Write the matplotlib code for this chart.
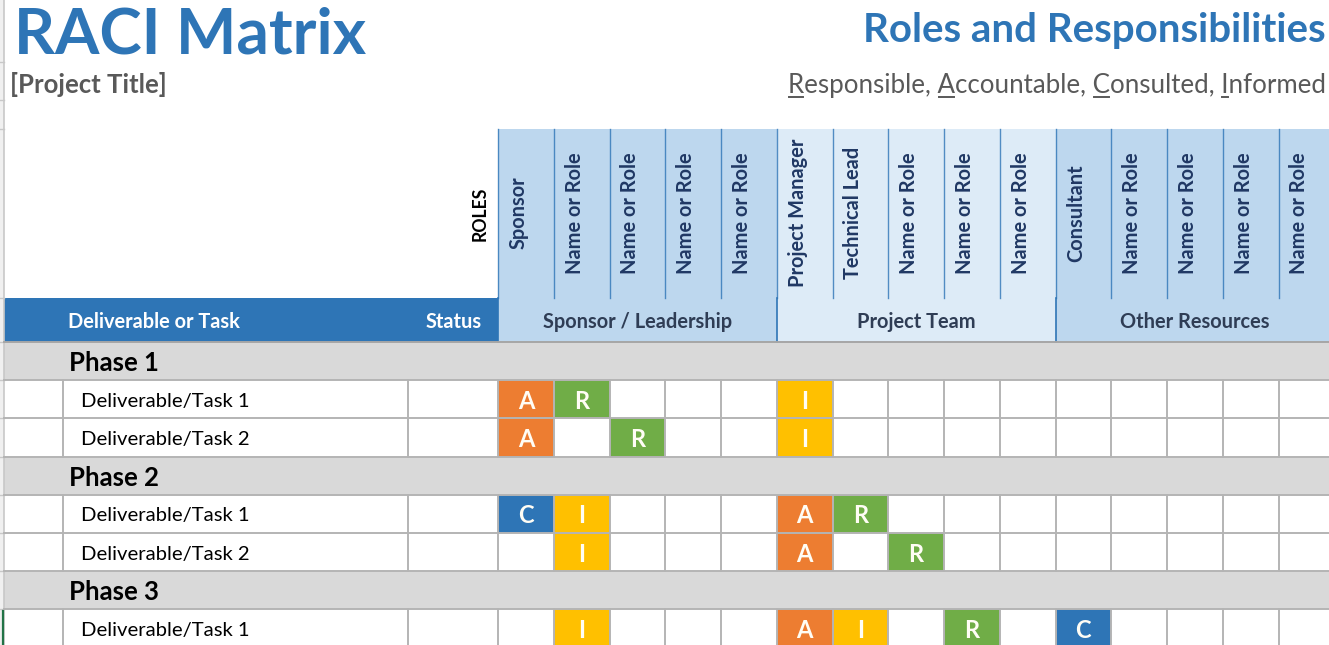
import matplotlib
matplotlib.use("Agg")
import matplotlib.pyplot as plt
from matplotlib.patches import Rectangle

# ---- chart content ----
roles = ["Sponsor", "Name or Role", "Name or Role", "Name or Role", "Name or Role",
         "Project Manager", "Technical Lead", "Name or Role", "Name or Role", "Name or Role",
         "Consultant", "Name or Role", "Name or Role", "Name or Role", "Name or Role"]
role_groups = ["Sponsor / Leadership", "Project Team", "Other Resources"]
group_sizes = [5, 5, 5]
phases = ["Phase 1", "Phase 2", "Phase 3"]
tasks = [["Deliverable/Task 1", "Deliverable/Task 2"],
         ["Deliverable/Task 1", "Deliverable/Task 2"],
         ["Deliverable/Task 1"]]
# one letter per role column, '-' means empty
assignments = [["AR---I---------", "A-R--I---------"],
               ["CI---AR--------", "-I---A-R-------"],
               ["-I---AI-R-C----"]]

raci_colors = {"A": "#ED7D31", "R": "#70AD47", "I": "#FFC000", "C": "#2E75B6"}
group_fills = ["#BDD7EE", "#DDEBF7", "#BDD7EE"]
BLUE = "#2E75B6"
GRID = "#B4B4B4"

# ---- sheet layout (pixels) ----
W, H = 1329, 645
X_EDGE, X_TASK, X_STATUS, X_ROLE = 4, 63, 408, 498
ROLE_W = 55.75
Y_HDR, Y_GRP, Y_BODY, ROW_H = 129, 298, 342, 38.2
DY = 2  # small baseline nudge for centred text

plt.rcParams['font.family'] = ['Lato', 'DejaVu Sans']

fig = plt.figure(figsize=(W / 100, H / 100), dpi=100)
ax = fig.add_axes([0, 0, 1, 1])
ax.set_xlim(0, W)
ax.set_ylim(H, 0)
ax.axis('off')

# flatten phases/tasks into sheet rows
rows = []
for ph, tlist, alist in zip(phases, tasks, assignments):
    rows.append(("phase", ph, None))
    for t, a in zip(tlist, alist):
        rows.append(("task", t, a))

def role_x(i):
    return X_ROLE + i * ROLE_W

# excel row-header strip on the left
ax.add_patch(Rectangle((0, 0), X_EDGE, H, fc="#F0F0F0", ec="none"))
ax.plot([X_EDGE, X_EDGE], [0, H], color="#C8C8C8", lw=1.2)
row_edges = [62, 100, Y_HDR, Y_GRP, Y_BODY] + [Y_BODY + (k + 1) * ROW_H for k in range(len(rows))]
for y in row_edges:
    ax.plot([0, X_EDGE], [y, y], color="#C8C8C8", lw=1)

# ---- titles ----
ax.text(14, 54, "RACI Matrix", fontsize=46, fontweight="bold", color=BLUE, va="baseline")
ax.text(1326, 42, "Roles and Responsibilities", fontsize=29, fontweight="bold",
        color=BLUE, ha="right", va="baseline")
ax.text(10, 93, "[Project Title]", fontsize=18.5, fontweight="bold", color="#595959", va="baseline")

legend = "Responsible, Accountable, Consulted, Informed"
leg_kw = dict(fontsize=18.6, color="#595959", va="baseline")
leg = ax.text(1326, 93, legend, ha="right", **leg_kw)
rend = fig.canvas.get_renderer()

def text_w(s):
    t = ax.text(0, 0, s, **leg_kw)
    w = t.get_window_extent(rend).width
    t.remove()
    return w

x_start = 1326 - leg.get_window_extent(rend).width
for letter in "RACI":
    idx = legend.index(letter)
    x0 = x_start + text_w(legend[:idx + 1]) - text_w(letter)
    ax.plot([x0 + 1, x0 + text_w(letter) - 1], [97, 97], color="#595959", lw=1.4)

# ---- role header block ----
for i, name in enumerate(roles):
    g = min(i // 5, 2)
    ax.add_patch(Rectangle((role_x(i), Y_HDR), ROLE_W, Y_GRP - Y_HDR, fc=group_fills[g], ec="none"))
    ax.text(role_x(i) + ROLE_W / 2 - 7, 213, name, rotation=90, ha="center", va="center",
            fontsize=14.4, fontweight="bold", color="#203864")
for i in range(len(roles) + 1):
    ax.plot([role_x(i), role_x(i)], [Y_HDR, Y_GRP], color=BLUE, lw=1, alpha=0.8)
ax.text(480, 214, "ROLES", rotation=90, ha="center", va="center",
        fontsize=12.7, fontweight="bold", color="black")

# ---- column header row ----
yh = (Y_GRP + Y_BODY) / 2 + DY
ax.add_patch(Rectangle((X_EDGE, Y_GRP), X_ROLE - X_EDGE, Y_BODY - Y_GRP, fc=BLUE, ec="none"))
ax.text(68, yh, "Deliverable or Task", color="white", fontsize=14.4,
        fontweight="bold", va="center")
ax.text(482, yh, "Status", color="white", fontsize=14.4,
        fontweight="bold", va="center", ha="right")
start = 0
for g, (label, n) in enumerate(zip(role_groups, group_sizes)):
    x0, x1 = role_x(start), role_x(start + n)
    ax.add_patch(Rectangle((x0, Y_GRP), x1 - x0, Y_BODY - Y_GRP, fc=group_fills[g], ec="none"))
    ax.plot([x0, x0], [Y_GRP, Y_BODY], color=BLUE, lw=1.2)
    ax.text((x0 + x1) / 2, yh, label, ha="center", va="center",
            fontsize=14.4, fontweight="bold", color="#2F3D55")
    start += n

# ---- body ----
v_lines = [X_TASK, X_STATUS] + [role_x(i) for i in range(len(roles) + 1)]
for r, (kind, label, codes) in enumerate(rows):
    y0 = Y_BODY + r * ROW_H
    yc = y0 + ROW_H / 2 + DY
    if kind == "phase":
        ax.add_patch(Rectangle((X_EDGE, y0), W, ROW_H, fc="#D9D9D9", ec="none"))
        ax.text(69, yc, label, fontsize=18.5, fontweight="bold", color="black", va="center")
    else:
        for i, c in enumerate(codes):
            if c in raci_colors:
                ax.add_patch(Rectangle((role_x(i), y0), ROLE_W, ROW_H, fc=raci_colors[c], ec="none"))
                ax.text(role_x(i) + ROLE_W / 2, yc, c, ha="center", va="center",
                        fontsize=17, fontweight="bold", color="#FFFDF5", zorder=4)
        for x in v_lines:
            ax.plot([x, x], [y0, y0 + ROW_H], color=GRID, lw=1.4, zorder=3)
        ax.text(81, yc, label, fontsize=14.6, color="black", va="center")
    ax.plot([X_EDGE, W], [y0 + ROW_H, y0 + ROW_H], color=GRID, lw=1.4, zorder=3)
ax.plot([X_EDGE, W], [Y_BODY, Y_BODY], color="#A6A6A6", lw=1.4, zorder=3)

# active-row marker in the last row header
ax.plot([X_EDGE - 1, X_EDGE - 1], [Y_BODY + (len(rows) - 1) * ROW_H + 2, H], color="#217346", lw=1.6)

fig.savefig("out.png", dpi=100)
